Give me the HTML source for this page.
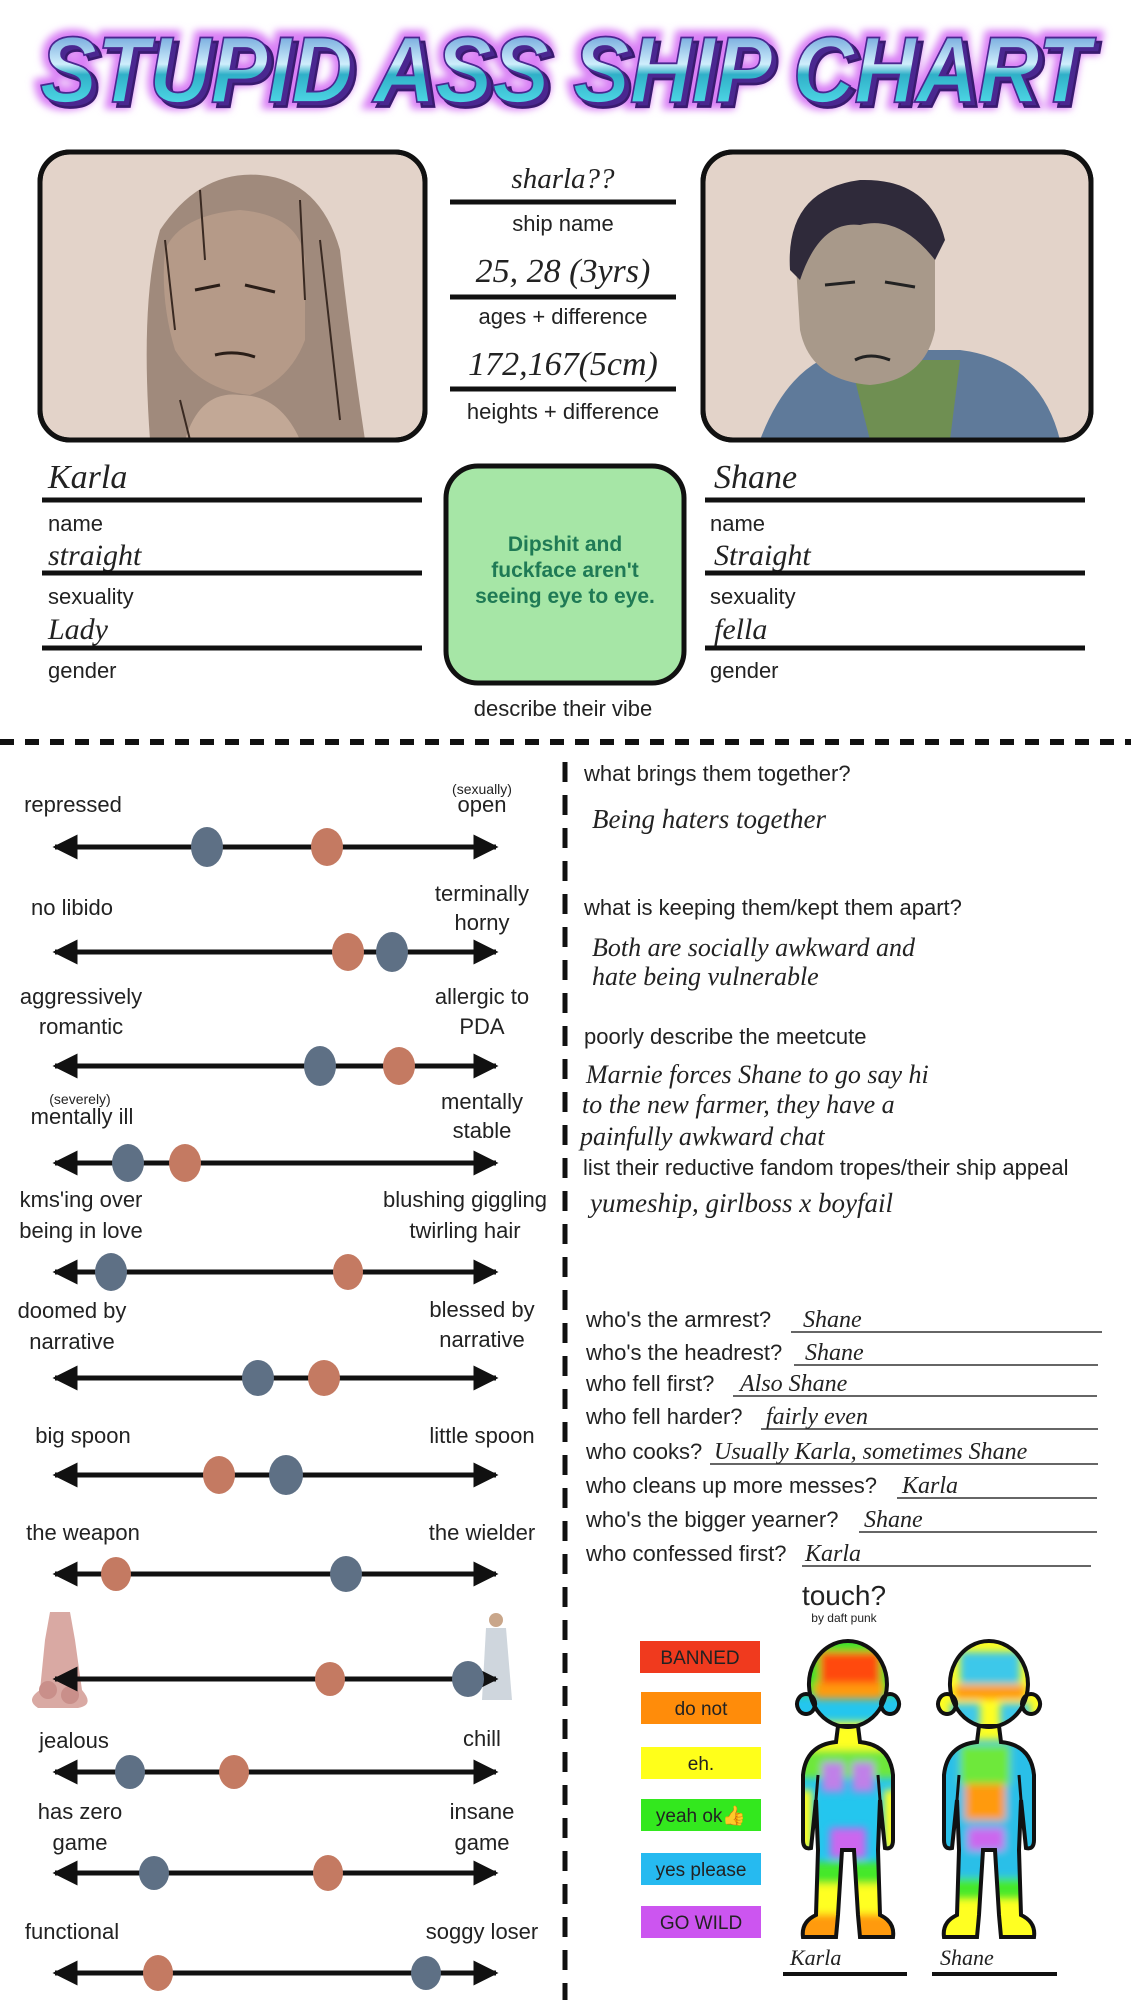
<!DOCTYPE html>
<html><head><meta charset="utf-8"><style>
html,body{margin:0;padding:0;background:#fff;}
svg{display:block;}
.t{font-family:"Liberation Sans Narrow","Liberation Sans",sans-serif;font-size:22px;fill:#222;}
.c{text-anchor:middle;}
.s{font-size:14px;}
.h{font-family:"Liberation Serif",serif;font-style:italic;font-size:27px;fill:#222;}
.lg{font-family:"Liberation Sans Narrow","Liberation Sans",sans-serif;font-size:19px;fill:#222;text-anchor:middle;}
</style></head><body>
<svg width="1131" height="2000" viewBox="0 0 1131 2000" xmlns="http://www.w3.org/2000/svg">
<defs>
<linearGradient id="tg" x1="0" y1="0" x2="0" y2="1">
<stop offset="0" stop-color="#3c7fc9"/><stop offset="0.45" stop-color="#cfeefc"/><stop offset="0.55" stop-color="#2fb0c8"/><stop offset="1" stop-color="#63f0f8"/></linearGradient>
<filter id="glow" x="-5%" y="-30%" width="110%" height="160%"><feGaussianBlur stdDeviation="4"/></filter>
<filter id="bl" x="-20%" y="-20%" width="140%" height="140%"><feGaussianBlur stdDeviation="4"/></filter>
<marker id="ah" viewBox="0 0 10 10" refX="9" refY="5" markerWidth="5" markerHeight="5" orient="auto-start-reverse"><path d="M0,0 L10,5 L0,10 Z" fill="#111"/></marker>
<path id="body" d="M838 1726 L858 1726 L860 1742 Q890 1745 893 1775 L893 1840 Q893 1850 885 1848 L880 1800 L878 1850 L880 1915 Q895 1922 893 1937 L860 1937 L858 1915 L854 1850 L842 1850 L838 1915 L836 1937 L803 1937 Q801 1922 816 1915 L818 1850 L816 1800 L811 1848 Q803 1850 803 1840 L803 1775 Q806 1745 836 1742 Z M848 1641 A39 43 0 1 1 847.9 1641 Z M806 1694 a9 10 0 1 0 0.1 0 Z M890 1694 a9 10 0 1 0 0.1 0 Z"/>
<clipPath id="bc"><use href="#body"/></clipPath>
<clipPath id="bc2"><use href="#body" transform="translate(141,0)"/></clipPath>
</defs>

<!-- title -->
<g transform="translate(0,102) scale(1,0.9) translate(0,-102)">
<text x="40" y="102" textLength="1050" lengthAdjust="spacingAndGlyphs" font-family="Liberation Sans" font-weight="bold" font-style="italic" font-size="104" fill="none" stroke="#d97ff5" stroke-width="16" filter="url(#glow)">STUPID ASS SHIP CHART</text>
<text x="45" y="107" textLength="1050" lengthAdjust="spacingAndGlyphs" font-family="Liberation Sans" font-weight="bold" font-style="italic" font-size="104" fill="#4a2790" stroke="#3a1a70" stroke-width="3">STUPID ASS SHIP CHART</text>
<text x="40" y="102" textLength="1050" lengthAdjust="spacingAndGlyphs" font-family="Liberation Sans" font-weight="bold" font-style="italic" font-size="104" fill="url(#tg)" stroke="#4a2790" stroke-width="2">STUPID ASS SHIP CHART</text>
</g>

<!-- photos -->
<rect x="40" y="152" width="385" height="288" rx="30" fill="#e3d3c9" stroke="#111" stroke-width="5"/>
<path d="M150 440 Q140 300 160 230 Q200 170 260 175 Q320 180 340 250 Q350 340 365 440 Z" fill="#a08a7c"/>
<path d="M165 250 Q180 215 240 210 Q300 215 305 260 L305 340 Q290 380 250 395 Q200 390 175 350 Q160 300 165 250 Z" fill="#b59a88"/>
<path d="M185 440 Q200 390 240 395 Q280 395 300 440 Z" fill="#c2a896"/>
<path d="M165 240 L175 330 M200 190 L205 260 M300 200 L305 300 M320 240 L340 420 M180 400 L190 440" stroke="#3a2a22" stroke-width="2" fill="none"/>
<path d="M195 290 L220 285 M245 285 L275 292 M215 355 Q235 350 255 357" stroke="#2a1e18" stroke-width="3" fill="none"/>
<rect x="40" y="152" width="385" height="288" rx="30" fill="none" stroke="#111" stroke-width="5"/>
<rect x="703" y="152" width="388" height="288" rx="30" fill="#e3d3c9" stroke="#111" stroke-width="5"/>
<path d="M760 440 Q790 360 850 350 L960 350 Q1040 360 1060 440 Z" fill="#5f7a9a"/>
<path d="M850 360 L960 360 L950 440 L870 440 Z" fill="#6f8f52"/>
<path d="M795 250 Q795 205 860 200 Q930 200 935 260 L935 330 Q925 380 870 385 Q810 380 800 330 Z" fill="#a8998a"/>
<path d="M790 270 Q785 190 860 180 Q930 178 945 240 L935 260 Q900 215 860 225 Q820 220 800 280 Z" fill="#2f2a3a"/>
<path d="M825 285 L855 282 M885 282 L915 287 M855 360 Q870 352 890 360" stroke="#222" stroke-width="3" fill="none"/>
<rect x="703" y="152" width="388" height="288" rx="30" fill="none" stroke="#111" stroke-width="5"/>

<!-- center info -->
<text x="563" y="188" class="h c" style="font-size:29px">sharla??</text>
<line x1="450" y1="202" x2="676" y2="202" stroke="#111" stroke-width="5"/>
<text x="563" y="231" class="t c">ship name</text>
<text x="563" y="282" class="h c" style="font-size:34px">25, 28 (3yrs)</text>
<line x1="450" y1="297" x2="676" y2="297" stroke="#111" stroke-width="5"/>
<text x="563" y="324" class="t c">ages + difference</text>
<text x="563" y="375" class="h c" style="font-size:34px">172,167(5cm)</text>
<line x1="450" y1="389" x2="676" y2="389" stroke="#111" stroke-width="5"/>
<text x="563" y="419" class="t c">heights + difference</text>

<!-- fields left -->
<text x="48" y="488" class="h" style="font-size:34px">Karla</text>
<line x1="42" y1="500" x2="422" y2="500" stroke="#111" stroke-width="5"/>
<text x="48" y="531" class="t">name</text>
<text x="48" y="565" class="h" style="font-size:30px">straight</text>
<line x1="42" y1="573" x2="422" y2="573" stroke="#111" stroke-width="5"/>
<text x="48" y="604" class="t">sexuality</text>
<text x="48" y="639" class="h" style="font-size:30px">Lady</text>
<line x1="42" y1="648" x2="422" y2="648" stroke="#111" stroke-width="5"/>
<text x="48" y="678" class="t">gender</text>
<!-- fields right -->
<text x="714" y="488" class="h" style="font-size:34px">Shane</text>
<line x1="705" y1="500" x2="1085" y2="500" stroke="#111" stroke-width="5"/>
<text x="710" y="531" class="t">name</text>
<text x="714" y="565" class="h" style="font-size:30px">Straight</text>
<line x1="705" y1="573" x2="1085" y2="573" stroke="#111" stroke-width="5"/>
<text x="710" y="604" class="t">sexuality</text>
<text x="714" y="639" class="h" style="font-size:30px">fella</text>
<line x1="705" y1="648" x2="1085" y2="648" stroke="#111" stroke-width="5"/>
<text x="710" y="678" class="t">gender</text>

<!-- vibe box -->
<rect x="446" y="466" width="238" height="217" rx="32" fill="#a6e6a6" stroke="#111" stroke-width="5"/>
<g font-family="Liberation Sans" font-weight="bold" font-size="21" fill="#1f7a55" text-anchor="middle">
<text x="565" y="551">Dipshit and</text><text x="565" y="577">fuckface aren't</text><text x="565" y="603">seeing eye to eye.</text></g>
<text x="563" y="716" class="t c">describe their vibe</text>

<!-- dashed dividers -->
<line x1="0" y1="742" x2="1131" y2="742" stroke="#111" stroke-width="6" stroke-dasharray="14 11"/>
<line x1="565" y1="762" x2="565" y2="2000" stroke="#111" stroke-width="5" stroke-dasharray="20 13"/>

<!-- row 9 images (behind line) -->
<g fill="#d9a9a3">
<path d="M50 1612 L70 1612 L75 1640 L82 1690 Q95 1705 78 1708 L38 1708 Q25 1700 40 1690 L45 1640 Z"/>
<circle cx="48" cy="1690" r="9" fill="#c98f8a"/><circle cx="70" cy="1695" r="9" fill="#c98f8a"/></g>
<g><circle cx="496" cy="1620" r="7" fill="#c9a68a"/><path d="M486 1628 L506 1628 L512 1700 L482 1700 Z" fill="#cfd6dd"/></g>

<!-- sliders -->
<g stroke="#111" stroke-width="5" marker-start="url(#ah)" marker-end="url(#ah)">
<line x1="55" y1="847" x2="496" y2="847"/><line x1="55" y1="952" x2="496" y2="952"/>
<line x1="55" y1="1066" x2="496" y2="1066"/><line x1="55" y1="1163" x2="496" y2="1163"/>
<line x1="55" y1="1272" x2="496" y2="1272"/><line x1="55" y1="1378" x2="496" y2="1378"/>
<line x1="55" y1="1475" x2="496" y2="1475"/><line x1="55" y1="1574" x2="496" y2="1574"/>
<line x1="55" y1="1679" x2="496" y2="1679"/><line x1="55" y1="1772" x2="496" y2="1772"/>
<line x1="55" y1="1873" x2="496" y2="1873"/><line x1="55" y1="1973" x2="496" y2="1973"/>
</g>
<g>
<ellipse cx="207" cy="847" rx="16" ry="20" fill="#5e7085"/><ellipse cx="327" cy="847" rx="16" ry="19" fill="#c47a62"/>
<ellipse cx="348" cy="952" rx="16" ry="19" fill="#c47a62"/><ellipse cx="392" cy="952" rx="16" ry="20" fill="#5e7085"/>
<ellipse cx="320" cy="1066" rx="16" ry="20" fill="#5e7085"/><ellipse cx="399" cy="1066" rx="16" ry="19" fill="#c47a62"/>
<ellipse cx="128" cy="1163" rx="16" ry="19" fill="#5e7085"/><ellipse cx="185" cy="1163" rx="16" ry="19" fill="#c47a62"/>
<ellipse cx="111" cy="1272" rx="16" ry="19" fill="#5e7085"/><ellipse cx="348" cy="1272" rx="15" ry="18" fill="#c47a62"/>
<ellipse cx="258" cy="1378" rx="16" ry="18" fill="#5e7085"/><ellipse cx="324" cy="1378" rx="16" ry="18" fill="#c47a62"/>
<ellipse cx="219" cy="1475" rx="16" ry="19" fill="#c47a62"/><ellipse cx="286" cy="1475" rx="17" ry="20" fill="#5e7085"/>
<ellipse cx="116" cy="1574" rx="15" ry="17" fill="#c47a62"/><ellipse cx="346" cy="1574" rx="16" ry="18" fill="#5e7085"/>
<ellipse cx="330" cy="1679" rx="15" ry="17" fill="#c47a62"/><ellipse cx="468" cy="1679" rx="16" ry="18" fill="#5e7085"/>
<ellipse cx="130" cy="1772" rx="15" ry="17" fill="#5e7085"/><ellipse cx="234" cy="1772" rx="15" ry="17" fill="#c47a62"/>
<ellipse cx="154" cy="1873" rx="15" ry="17" fill="#5e7085"/><ellipse cx="328" cy="1873" rx="15" ry="18" fill="#c47a62"/>
<ellipse cx="158" cy="1973" rx="15" ry="18" fill="#c47a62"/><ellipse cx="426" cy="1973" rx="15" ry="17" fill="#5e7085"/>
</g>

<!-- slider labels -->
<g>
<text x="73" y="812" class="t c">repressed</text><text x="482" y="794" class="t c s">(sexually)</text><text x="482" y="812" class="t c">open</text>
<text x="72" y="915" class="t c">no libido</text><text x="482" y="901" class="t c">terminally</text><text x="482" y="930" class="t c">horny</text>
<text x="81" y="1004" class="t c">aggressively</text><text x="81" y="1034" class="t c">romantic</text><text x="482" y="1004" class="t c">allergic to</text><text x="482" y="1034" class="t c">PDA</text>
<text x="80" y="1104" class="t c s">(severely)</text><text x="82" y="1124" class="t c">mentally ill</text><text x="482" y="1109" class="t c">mentally</text><text x="482" y="1138" class="t c">stable</text>
<text x="81" y="1207" class="t c">kms'ing over</text><text x="81" y="1238" class="t c">being in love</text><text x="465" y="1207" class="t c">blushing giggling</text><text x="465" y="1238" class="t c">twirling hair</text>
<text x="72" y="1318" class="t c">doomed by</text><text x="72" y="1349" class="t c">narrative</text><text x="482" y="1317" class="t c">blessed by</text><text x="482" y="1347" class="t c">narrative</text>
<text x="83" y="1443" class="t c">big spoon</text><text x="482" y="1443" class="t c">little spoon</text>
<text x="83" y="1540" class="t c">the weapon</text><text x="482" y="1540" class="t c">the wielder</text>
<text x="74" y="1748" class="t c">jealous</text><text x="482" y="1746" class="t c">chill</text>
<text x="80" y="1819" class="t c">has zero</text><text x="80" y="1850" class="t c">game</text><text x="482" y="1819" class="t c">insane</text><text x="482" y="1850" class="t c">game</text>
<text x="72" y="1939" class="t c">functional</text><text x="482" y="1939" class="t c">soggy loser</text>
</g>

<!-- right questions -->
<text x="584" y="781" class="t">what brings them together?</text>
<text x="592" y="828" class="h">Being haters together</text>
<text x="584" y="915" class="t">what is keeping them/kept them apart?</text>
<text x="592" y="956" class="h" style="font-size:26px">Both are socially awkward and</text>
<text x="592" y="985" class="h" style="font-size:26px">hate being vulnerable</text>
<text x="584" y="1044" class="t">poorly describe the meetcute</text>
<text x="586" y="1083" class="h" style="font-size:26px">Marnie forces Shane to go say hi</text>
<text x="582" y="1113" class="h" style="font-size:26px">to the new farmer, they have a</text>
<text x="580" y="1145" class="h" style="font-size:26px">painfully awkward chat</text>
<text x="583" y="1175" class="t">list their reductive fandom tropes/their ship appeal</text>
<text x="590" y="1212" class="h">yumeship, girlboss x boyfail</text>

<g>
<text x="586" y="1327" class="t">who's the armrest?</text>
<text x="586" y="1360" class="t">who's the headrest?</text>
<text x="586" y="1391" class="t">who fell first?</text>
<text x="586" y="1424" class="t">who fell harder?</text>
<text x="586" y="1459" class="t">who cooks?</text>
<text x="586" y="1493" class="t">who cleans up more messes?</text>
<text x="586" y="1527" class="t">who's the bigger yearner?</text>
<text x="586" y="1561" class="t">who confessed first?</text>
</g>
<g>
<text x="803" y="1327" class="h" style="font-size:24px">Shane</text><text x="805" y="1360" class="h" style="font-size:24px">Shane</text><text x="740" y="1391" class="h" style="font-size:24px">Also Shane</text>
<text x="766" y="1424" class="h" style="font-size:24px">fairly even</text><text x="714" y="1459" class="h" style="font-size:24px">Usually Karla, sometimes Shane</text>
<text x="902" y="1493" class="h" style="font-size:24px">Karla</text><text x="864" y="1527" class="h" style="font-size:24px">Shane</text><text x="805" y="1561" class="h" style="font-size:24px">Karla</text>
</g>
<g stroke="#333" stroke-width="1.5">
<line x1="791" y1="1332" x2="1102" y2="1332"/><line x1="794" y1="1365" x2="1098" y2="1365"/>
<line x1="733" y1="1396" x2="1097" y2="1396"/><line x1="761" y1="1429" x2="1098" y2="1429"/>
<line x1="710" y1="1464" x2="1098" y2="1464"/><line x1="897" y1="1498" x2="1097" y2="1498"/>
<line x1="859" y1="1532" x2="1097" y2="1532"/><line x1="802" y1="1566" x2="1091" y2="1566"/>
</g>

<!-- touch -->
<text x="844" y="1605" class="t c" style="font-size:28px">touch?</text>
<text x="844" y="1622" class="t c" style="font-size:12px">by daft punk</text>
<rect x="640" y="1641" width="120" height="32" fill="#f03a1e"/><text x="700" y="1664" class="lg">BANNED</text>
<rect x="641" y="1692" width="120" height="32" fill="#ff8c0a"/><text x="701" y="1715" class="lg">do not</text>
<rect x="641" y="1747" width="120" height="32" fill="#ffff1a"/><text x="701" y="1770" class="lg">eh.</text>
<rect x="641" y="1799" width="120" height="32" fill="#33e81e"/><text x="701" y="1822" class="lg">yeah ok👍</text>
<rect x="641" y="1853" width="120" height="32" fill="#26baf0"/><text x="701" y="1876" class="lg">yes please</text>
<rect x="641" y="1906" width="120" height="32" fill="#cc55f0"/><text x="701" y="1929" class="lg">GO WILD</text>

<!-- Karla figure -->
<g clip-path="url(#bc)">
<rect x="790" y="1630" width="110" height="320" fill="#24c6ee"/>
<g filter="url(#bl)">
<rect x="790" y="1630" width="110" height="65" fill="#3ee22a"/>
<rect x="820" y="1652" width="60" height="35" fill="#ff4a10"/>
<rect x="815" y="1683" width="68" height="16" fill="#ff9a10"/>
<rect x="790" y="1722" width="110" height="30" fill="#ffff22"/>
<rect x="790" y="1750" width="110" height="28" fill="#6ee83a"/>
<rect x="790" y="1790" width="22" height="60" fill="#ffff22"/><rect x="884" y="1790" width="22" height="60" fill="#ffff22"/>
<rect x="822" y="1762" width="22" height="30" fill="#c080e8"/><rect x="852" y="1762" width="22" height="30" fill="#c080e8"/>
<rect x="830" y="1828" width="36" height="30" fill="#cc66ee"/>
<rect x="790" y="1862" width="110" height="22" fill="#44e82a"/>
<rect x="790" y="1884" width="110" height="30" fill="#ffff22"/>
<rect x="790" y="1914" width="110" height="30" fill="#ff9a10"/>
</g></g>
<use href="#body" fill="none" stroke="#111" stroke-width="4"/>
<path d="M816 1800 L818 1775 M880 1800 L878 1775" stroke="#111" stroke-width="3"/>

<!-- Shane figure -->
<g clip-path="url(#bc2)">
<rect x="930" y="1630" width="110" height="320" fill="#ffff22"/>
<g filter="url(#bl)">
<rect x="960" y="1652" width="60" height="32" fill="#3cc8ea"/>
<rect x="955" y="1685" width="70" height="14" fill="#ff9a10"/>
<rect x="950" y="1703" width="30" height="24" fill="#3cc8ea"/><rect x="1000" y="1703" width="30" height="24" fill="#3cc8ea"/>
<rect x="930" y="1740" width="110" height="110" fill="#2cbfe8"/>
<rect x="960" y="1745" width="50" height="40" fill="#6ee83a"/>
<rect x="965" y="1784" width="40" height="36" fill="#ff9a10"/>
<rect x="968" y="1828" width="36" height="22" fill="#cc66ee"/>
<rect x="930" y="1850" width="110" height="28" fill="#2cbfe8"/>
<rect x="930" y="1878" width="110" height="20" fill="#44e82a"/>
</g></g>
<use href="#body" transform="translate(141,0)" fill="none" stroke="#111" stroke-width="4"/>
<path d="M957 1800 L959 1775 M1021 1800 L1019 1775" stroke="#111" stroke-width="3"/>

<text x="790" y="1965" class="h" style="font-size:22px">Karla</text>
<line x1="783" y1="1974" x2="907" y2="1974" stroke="#111" stroke-width="4"/>
<text x="940" y="1965" class="h" style="font-size:22px">Shane</text>
<line x1="932" y1="1974" x2="1057" y2="1974" stroke="#111" stroke-width="4"/>
</svg>
</body></html>
